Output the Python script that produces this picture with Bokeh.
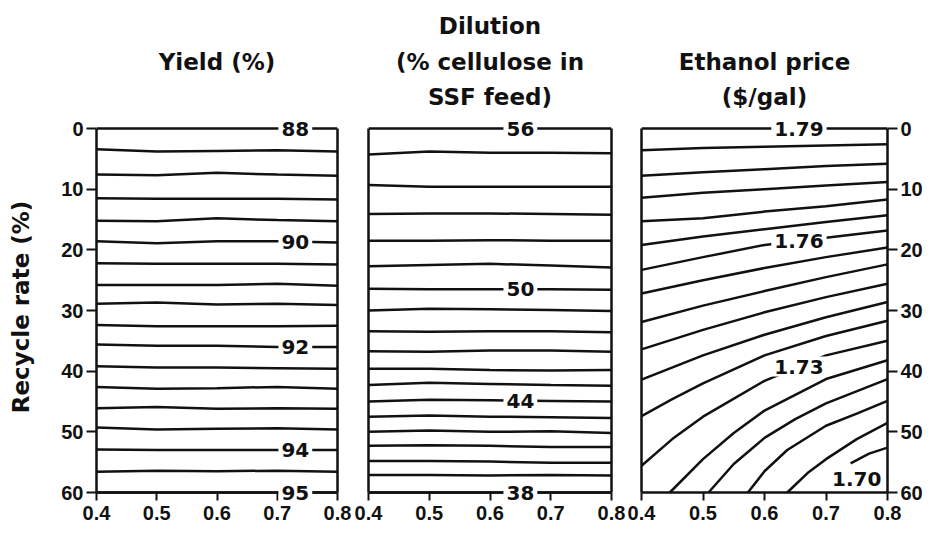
import numpy as np
from bokeh.plotting import figure
from bokeh.models import Range1d, FixedTicker, Label, LinearAxis, Title
from bokeh.layouts import row
from bokeh.embed import file_html
from bokeh.resources import INLINE

# ---------------- data ----------------
x_ticks = [0.4, 0.5, 0.6, 0.7, 0.8]
y_ticks = [0, 10, 20, 30, 40, 50, 60]
x_read = [0.4, 0.5, 0.6, 0.7, 0.8]          # cellulose fraction where lines were read

# Panel 1: Yield (%) contour lines; recycle rate (%) at each x_read
yield_levels = [88.0, 88.4, 88.8, 89.2, 89.6, 90.0, 90.4, 90.8, 91.2, 91.6,
                92.0, 92.4, 92.8, 93.2, 93.6, 94.0, 94.4, 94.8]
yield_rates = [
    [0.0, 0.0, 0.0, 0.0, 0.0],
    [3.4, 3.8, 3.7, 3.6, 3.8],
    [7.6, 7.7, 7.3, 7.6, 7.8],
    [11.5, 11.6, 11.6, 11.6, 11.7],
    [15.2, 15.3, 14.8, 15.1, 15.3],
    [18.6, 18.9, 18.6, 18.6, 18.8],
    [22.2, 22.3, 22.3, 22.3, 22.4],
    [25.8, 25.8, 25.8, 25.6, 25.9],
    [28.9, 28.7, 29.0, 28.9, 29.1],
    [32.4, 32.6, 32.6, 32.6, 32.5],
    [35.6, 35.8, 35.8, 36.0, 36.0],
    [39.2, 39.4, 39.4, 39.5, 39.6],
    [42.6, 42.9, 42.8, 42.6, 42.9],
    [46.1, 45.9, 46.2, 46.1, 46.2],
    [49.3, 49.6, 49.5, 49.4, 49.6],
    [52.9, 53.0, 53.0, 53.0, 53.0],
    [56.6, 56.4, 56.5, 56.4, 56.6],
    [60.0, 60.0, 60.0, 60.0, 60.0],
]
yield_label_text = ["88", "90", "92", "94", "95"]
yield_label_line = [0, 5, 10, 15, 17]

# Panel 2: Dilution (% cellulose in SSF feed)
dilution_levels = [56, 55, 54, 53, 52, 51, 50, 49, 48, 47, 46, 45, 44, 43, 42, 41, 40, 39, 38]
dilution_rates = [
    [0.0, 0.0, 0.0, 0.0, 0.0],
    [4.3, 3.8, 4.0, 4.0, 4.1],
    [9.3, 9.6, 9.6, 9.6, 9.6],
    [14.1, 14.0, 14.0, 14.1, 14.2],
    [18.5, 18.5, 18.4, 18.5, 18.5],
    [22.7, 22.5, 22.3, 22.6, 22.9],
    [26.4, 26.5, 26.5, 26.5, 26.6],
    [30.0, 29.7, 29.8, 29.9, 30.1],
    [33.4, 33.5, 33.4, 33.4, 33.6],
    [36.7, 36.8, 36.6, 36.6, 36.8],
    [39.6, 39.6, 39.8, 39.9, 39.8],
    [42.3, 41.9, 42.1, 42.3, 42.4],
    [45.0, 44.7, 44.8, 44.9, 45.0],
    [47.5, 47.3, 47.5, 47.6, 47.7],
    [50.0, 49.8, 50.0, 49.9, 50.2],
    [52.3, 52.2, 52.3, 52.5, 52.5],
    [54.8, 54.8, 54.9, 55.1, 55.1],
    [57.1, 57.1, 57.2, 57.1, 57.2],
    [60.0, 60.0, 60.0, 60.0, 60.0],
]
dilution_label_text = ["56", "50", "44", "38"]
dilution_label_line = [0, 6, 12, 18]

# Panel 3: Ethanol price ($/gal)
price_levels = [1.790, 1.785, 1.780, 1.775, 1.770, 1.765, 1.760, 1.755, 1.750,
                1.745, 1.740, 1.735, 1.730, 1.725, 1.720, 1.715, 1.710, 1.705]
price_x = [
    [0.4, 0.5, 0.6, 0.7, 0.8],
    [0.4, 0.5, 0.6, 0.7, 0.8],
    [0.4, 0.5, 0.6, 0.7, 0.8],
    [0.4, 0.5, 0.6, 0.7, 0.8],
    [0.4, 0.5, 0.6, 0.7, 0.8],
    [0.4, 0.5, 0.6, 0.7, 0.8],
    [0.4, 0.5, 0.6, 0.7, 0.8],
    [0.4, 0.5, 0.6, 0.7, 0.8],
    [0.4, 0.5, 0.6, 0.7, 0.8],
    [0.4, 0.5, 0.6, 0.7, 0.8],
    [0.4, 0.5, 0.6, 0.7, 0.8],
    [0.4, 0.45, 0.5, 0.6, 0.7, 0.8],
    [0.4, 0.45, 0.5, 0.6, 0.7, 0.8],
    [0.446, 0.5, 0.55, 0.6, 0.7, 0.8],
    [0.509, 0.55, 0.6, 0.65, 0.7, 0.8],
    [0.573, 0.6, 0.637, 0.7, 0.75, 0.8],
    [0.637, 0.67, 0.7, 0.75, 0.8],
    [0.74, 0.77, 0.8],
]
price_rates = [
    [0.0, 0.0, 0.0, 0.0, 0.0],
    [3.6, 3.2, 3.0, 2.8, 2.6],
    [7.8, 7.2, 6.7, 6.2, 5.8],
    [11.4, 10.6, 10.0, 9.4, 8.8],
    [15.3, 14.8, 13.7, 12.8, 11.7],
    [19.2, 17.8, 16.6, 15.4, 14.3],
    [23.3, 21.2, 19.2, 18.0, 16.8],
    [27.2, 25.0, 23.0, 21.2, 19.6],
    [31.9, 29.2, 26.8, 24.5, 22.4],
    [36.4, 33.2, 30.3, 27.8, 25.6],
    [41.4, 37.4, 34.0, 31.1, 28.6],
    [47.4, 44.6, 42.0, 37.4, 34.2, 31.7],
    [55.6, 51.2, 47.5, 41.6, 37.4, 35.0],
    [60.0, 54.5, 50.2, 46.5, 41.3, 38.2],
    [60.0, 55.3, 51.0, 47.9, 45.3, 41.3],
    [60.0, 56.5, 53.0, 49.0, 47.0, 44.9],
    [60.0, 56.8, 54.5, 51.2, 48.5],
    [55.2, 53.6, 52.6],
]
price_label_text = ["1.79", "1.76", "1.73"]
price_label_line = [0, 6, 12]
price_note_text = "1.70"

# ---------------- layout / style ----------------
PX_PER_UNIT = 364 / 60.0
PAD_T = 15 / PX_PER_UNIT                    # room above the 0 % line
PAD_B_PX = 8                                # room below the 60 % line (tick length)
PAD_B = PAD_B_PX / PX_PER_UNIT
FRAME_H = int(round(PX_PER_UNIT * (60 + PAD_T + PAD_B)))
TOP = 113
BOTTOM = 528 - TOP - FRAME_H
INK = "#111111"
LW = 2.5
TICK_FONT = "Liberation Sans"
TEXT_FONT = "DejaVu Sans"
Y_LO, Y_HI = y_ticks[0], y_ticks[-1]


def edge_axis(p, side):
    ax = LinearAxis(bounds=(Y_LO, Y_HI), ticker=FixedTicker(ticks=[]),
                    axis_line_color=INK, axis_line_width=LW,
                    major_tick_line_color=None, minor_tick_line_color=None)
    p.add_layout(ax, side)


def style_labels(ax):
    ax.major_label_text_font = TICK_FONT
    ax.major_label_text_font_style = "bold"
    ax.major_label_text_font_size = "20px"
    ax.major_label_text_color = INK


def make_panel(frame_w, bl, br, yloc):
    p = figure(frame_width=frame_w, frame_height=FRAME_H,
               min_border_left=bl, min_border_right=br,
               min_border_top=TOP, min_border_bottom=BOTTOM,
               x_range=Range1d(x_ticks[0], x_ticks[-1]),
               y_range=Range1d(Y_HI + PAD_B, Y_LO - PAD_T),
               y_axis_location=yloc, toolbar_location=None, tools="",
               output_backend="svg")
    p.grid.visible = False
    p.background_fill_color = "white"
    p.border_fill_color = "white"
    p.outline_line_color = None
    for ax in p.axis:
        ax.axis_line_color = INK
        ax.axis_line_width = LW
        ax.major_tick_line_color = INK
        ax.major_tick_line_width = 2
        ax.major_tick_in = 0
        ax.minor_tick_line_color = None
        style_labels(ax)
    # x axis line drawn on the 60 % line
    xa = p.xaxis[0]
    xa.ticker = FixedTicker(ticks=[])
    xa.fixed_location = Y_HI
    # ticks (from the 60 % line downwards) and tick labels in the border
    xl = LinearAxis(ticker=FixedTicker(ticks=x_ticks), axis_line_color=None,
                    major_tick_line_color=INK, major_tick_line_width=2,
                    major_tick_in=PAD_B_PX, major_tick_out=0,
                    minor_tick_line_color=None, major_label_standoff=5)
    style_labels(xl)
    p.add_layout(xl, "below")
    if yloc is not None:
        p.yaxis.ticker = FixedTicker(ticks=y_ticks)
        p.yaxis.bounds = (Y_LO, Y_HI)
        p.yaxis.major_tick_out = 10
        p.yaxis.major_label_standoff = 3
    return p


def set_titles(p, rows, offset):
    # rows are top, middle, bottom; the bottom row sits closest to the frame
    standoffs = [7, 8, 7]
    for txt, so in [(rows[2], standoffs[2]), (rows[1], standoffs[1])]:
        t = Title(text=txt, align="center", offset=offset, standoff=so,
                  vertical_align="bottom", text_font=TEXT_FONT,
                  text_font_style="bold", text_font_size="23px", text_color=INK)
        p.add_layout(t, "above")
    t = p.title
    t.text = rows[0]
    t.align = "center"
    t.offset = offset
    t.standoff = standoffs[0]
    t.vertical_align = "bottom"
    t.text_font = TEXT_FONT
    t.text_font_style = "bold"
    t.text_font_size = "23px"
    t.text_color = INK


def add_contour_labels(p, xs, ys, texts, line_idx, lx):
    for txt, li in zip(texts, line_idx):
        ly = float(np.interp(lx, xs[li], ys[li]))
        p.add_layout(Label(x=lx, y=ly, text=txt,
                           text_font=TEXT_FONT, text_font_style="bold",
                           text_font_size="20px", text_color=INK,
                           text_align="center", text_baseline="middle",
                           background_fill_color="white",
                           background_fill_alpha=1.0, padding=3))


# Panel 1
W1 = 241
p1 = make_panel(W1, 96, 15, "left")
edge_axis(p1, "right")
xs1 = [x_read for _ in yield_rates]
p1.multi_line(xs1, yield_rates, line_color=INK, line_width=LW)
add_contour_labels(p1, xs1, yield_rates, yield_label_text, yield_label_line, 0.73)
ya = p1.yaxis[0]
ya.axis_label = "Recycle rate (%)"
ya.axis_label_text_font = TEXT_FONT
ya.axis_label_text_font_style = "bold"
ya.axis_label_text_font_size = "23px"
ya.axis_label_text_color = INK
ya.axis_label_standoff = 24
set_titles(p1, [" ", "Yield (%)", " "], 9)

# Panel 2
W2 = 243
p2 = make_panel(W2, 16, 15, None)
edge_axis(p2, "left")
edge_axis(p2, "right")
xs2 = [x_read for _ in dilution_rates]
p2.multi_line(xs2, dilution_rates, line_color=INK, line_width=LW)
add_contour_labels(p2, xs2, dilution_rates, dilution_label_text, dilution_label_line, 0.65)
set_titles(p2, ["Dilution", "(% cellulose in", "SSF feed)"], 3)

# Panel 3
W3 = 246
p3 = make_panel(W3, 15, 39, "right")
edge_axis(p3, "left")
p3.multi_line(price_x, price_rates, line_color=INK, line_width=LW)
add_contour_labels(p3, price_x, price_rates, price_label_text, price_label_line, 0.656)
p3.add_layout(Label(x=0.75, y=57.7, text=price_note_text,
                    text_font=TEXT_FONT, text_font_style="bold",
                    text_font_size="20px", text_color=INK,
                    text_align="center", text_baseline="middle"))
set_titles(p3, [" ", "Ethanol price", "($/gal)"], 0)

layout = row(p1, p2, p3)
open("out.html", "w").write(file_html(layout, INLINE))
